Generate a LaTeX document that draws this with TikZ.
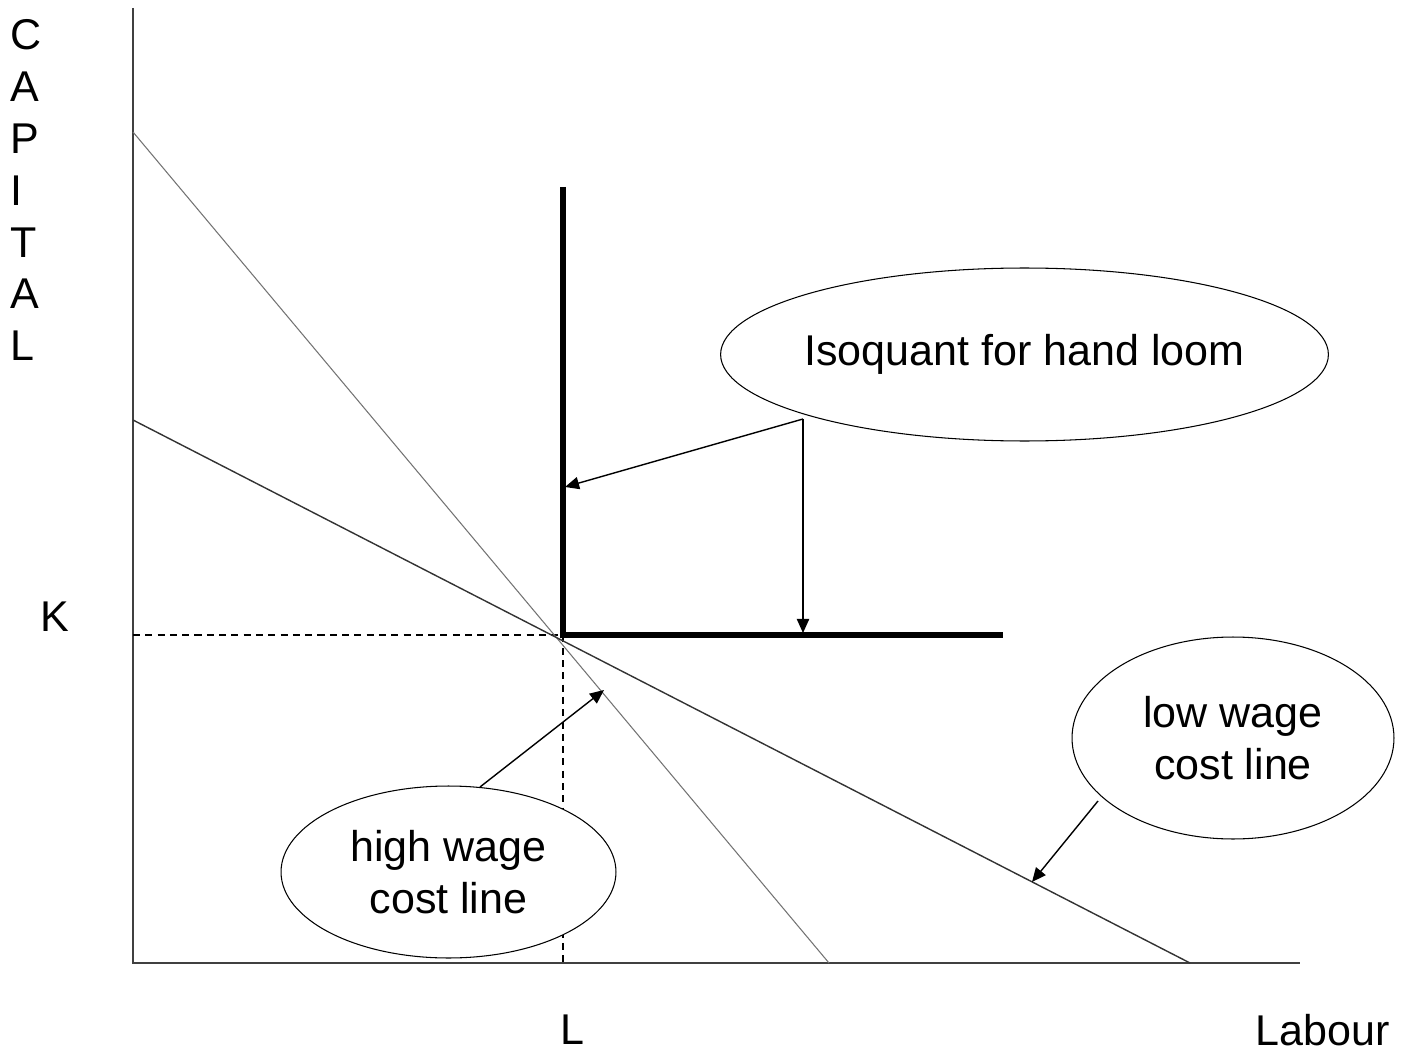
\documentclass[tikz,border=0pt]{standalone}
\usepackage{fontspec}
\setmainfont{Liberation Sans}
\usetikzlibrary{shapes.geometric,arrows.meta}

\tikzset{
  bubble/.style={draw, fill=white, ellipse, inner sep=0pt, line width=0.6pt, align=center,
    font=\fontsize{24.5}{29.5}\selectfont},
  axislabel/.style={inner sep=0pt, font=\fontsize{24.5}{29.5}\selectfont},
  pointer/.style={line width=0.8pt, -{Triangle[length=8pt,width=7pt]}},
}

\begin{document}
\begin{tikzpicture}[x=0.02cm, y=-0.02cm]
\useasboundingbox (0,0) rectangle (1410,1054);

% axes
\coordinate (o) at (133,963);
\coordinate (ytop) at (133,8);
\coordinate (xend) at (1300,963);
\draw[line width=1.1pt, black!75] (ytop) -- (o) -- (xend);

% axis labels
\foreach \ch [count=\i from 0] in {C,A,P,I,T,A,L}
  \node[axislabel, anchor=west] (cap\i) at (10,35+51.8*\i) {\ch};
\node[axislabel] (k) at (55,617) {K};
\node[axislabel] (l) at (572,1030) {L};
\node[axislabel] (labour) at (1323,1030) {Labour};

% point of tangency
\coordinate (e) at (563,635);
\coordinate (ek) at (133,635);
\coordinate (el) at (563,963);
\draw[dashed, line width=0.8pt, dash pattern=on 4pt off 3pt] (ek) -- (e) -- (el);

% cost lines
\coordinate (hw1) at (133,132);
\coordinate (hw2) at (829,963);
\coordinate (lw1) at (133,420);
\coordinate (lw2) at (1190,963);
\draw[line width=0.6pt, black!55] (hw1) -- (hw2);
\draw[line width=0.8pt, black!80] (lw1) -- (lw2);

% isoquant
\coordinate (iqtop) at (563,187);
\coordinate (iqend) at (1003,635);
\draw[line width=3.7pt] (iqtop) -- (e) -- (iqend);

% labels
\node[bubble, inner xsep=-3pt, minimum width=12.1cm, minimum height=3.46cm] (iso) at (1024.5,354.5) {Isoquant for hand loom};
\node[bubble, minimum width=6.44cm, minimum height=4.04cm] (low) at (1233,738) {low wage\\cost line};
\node[bubble, minimum width=6.7cm, minimum height=3.44cm] (high) at (448.5,872) {high wage\\cost line};

\coordinate (isotail) at (803,419);
\coordinate (isov) at (565,487);
\coordinate (isoh) at (803,633);
\draw[pointer] (isotail) -- (isov);
\draw[pointer] (isotail) -- (isoh);

\coordinate (lowtail) at (1098,801);
\coordinate (lowhead) at (1032,882);
\draw[pointer] (lowtail) -- (lowhead);

\coordinate (hightail) at (480,787);
\coordinate (highhead) at (604,690);
\draw[pointer] (hightail) -- (highhead);
\end{tikzpicture}
\end{document}
